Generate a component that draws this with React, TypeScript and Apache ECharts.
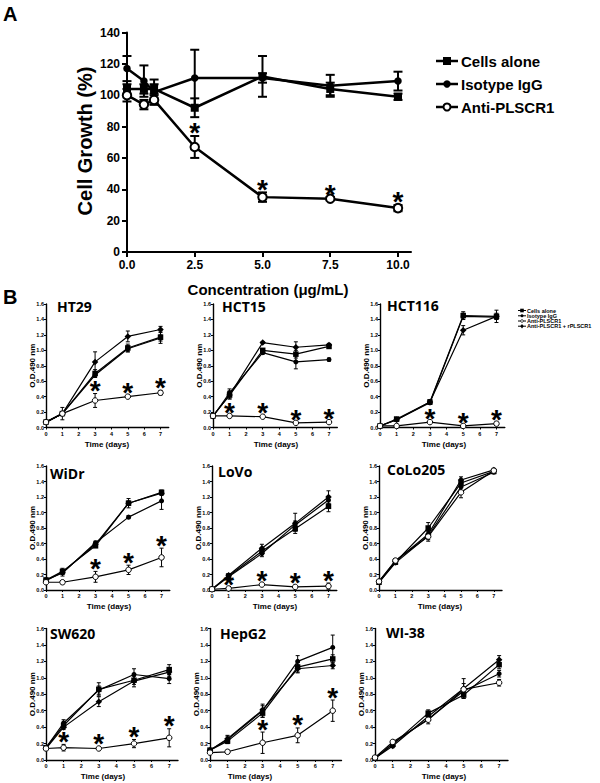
import React, { useEffect, useRef } from "react";
import * as echarts from "echarts";

// ---------- Panel A data ----------
const concA = [0, 0.625, 1, 2.5, 5, 7.5, 10];
const concTicks = [0, 2.5, 5, 7.5, 10];
const cellsAloneA = [104, 104, 104, 92, 112, 104, 99];
const cellsAloneAErr = [3, 3, 3, 6, 13, 4, 2];
const isotypeA = [117, 109, 102, 111, 111, 106, 109];
const isotypeAErr = [8, 10, 8, 18, 3, 7, 6];
const antiA = [100, 94, 97, 67, 35, 34, 28];
const antiAErr = [4, 3, 3, 7, 3, 1, 2];
const starsA = [2.5, 5, 7.5, 10];

// ---------- Panel B data ----------
const days = [0, 1, 3, 5, 7];
const dayTicks = [0, 1, 2, 3, 4, 5, 6, 7];
const cellLines = ["HT29", "HCT15", "HCT116", "WiDr", "LoVo", "CoLo205", "SW620", "HepG2", "WI-38"];

const cellsAloneB = [
  [0.07, 0.18, 0.70, 1.03, 1.17],
  [0.15, 0.42, 1.00, 0.95, 1.05],
  [0.02, 0.11, 0.33, 1.45, 1.44],
  [0.13, 0.24, 0.57, 1.12, 1.26],
  [0.01, 0.18, 0.50, 0.79, 1.08],
  [0.10, 0.36, 0.80, 1.38, 1.53],
  [0.15, 0.42, 0.86, 0.97, 1.10],
  [0.12, 0.23, 0.57, 1.13, 1.23],
  [0.02, 0.19, 0.57, 0.79, 1.16],
];
const cellsAloneBErr = [
  [0.01, 0.02, 0.05, 0.05, 0.08],
  [0.01, 0.05, 0.02, 0.05, 0.02],
  [0.01, 0.02, 0.02, 0.05, 0.04],
  [0.01, 0.02, 0.02, 0.06, 0.03],
  [0.01, 0.02, 0.03, 0.03, 0.07],
  [0.01, 0.02, 0.07, 0.05, 0.02],
  [0.02, 0.03, 0.08, 0.05, 0.06],
  [0.01, 0.03, 0.05, 0.06, 0.05],
  [0.01, 0.02, 0.04, 0.04, 0.05],
];
const isotypeB = [
  [0.07, 0.18, 0.68, 1.02, 1.16],
  [0.14, 0.45, 0.97, 0.85, 0.88],
  [0.02, 0.10, 0.32, 1.44, 1.43],
  [0.13, 0.22, 0.61, 0.94, 1.15],
  [0.01, 0.17, 0.47, 0.84, 1.16],
  [0.10, 0.35, 0.70, 1.33, 1.52],
  [0.15, 0.45, 0.85, 1.04, 0.99],
  [0.12, 0.25, 0.60, 1.20, 1.37],
  [0.02, 0.20, 0.50, 0.84, 1.05],
];
const isotypeBErr = [
  [0.01, 0.02, 0.03, 0.04, 0.04],
  [0.01, 0.05, 0.02, 0.09, 0.02],
  [0.01, 0.02, 0.02, 0.04, 0.03],
  [0.01, 0.02, 0.02, 0.02, 0.11],
  [0.01, 0.02, 0.04, 0.05, 0.05],
  [0.01, 0.02, 0.05, 0.06, 0.02],
  [0.02, 0.04, 0.05, 0.07, 0.06],
  [0.01, 0.05, 0.08, 0.07, 0.15],
  [0.01, 0.02, 0.03, 0.04, 0.04],
];
const antiB = [
  [0.07, 0.18, 0.35, 0.40, 0.45],
  [0.15, 0.15, 0.14, 0.06, 0.07],
  [0.02, 0.02, 0.07, 0.02, 0.05],
  [0.10, 0.10, 0.17, 0.26, 0.42],
  [0.01, 0.02, 0.07, 0.04, 0.05],
  [0.11, 0.38, 0.69, 1.26, 1.54],
  [0.14, 0.15, 0.14, 0.20, 0.27],
  [0.09, 0.10, 0.21, 0.30, 0.60],
  [0.03, 0.22, 0.49, 0.86, 0.94],
];
const antiBErr = [
  [0.01, 0.08, 0.09, 0.02, 0.03],
  [0.01, 0.01, 0.01, 0.01, 0.01],
  [0.01, 0.01, 0.01, 0.01, 0.02],
  [0.01, 0.02, 0.07, 0.06, 0.12],
  [0.01, 0.01, 0.02, 0.02, 0.04],
  [0.01, 0.02, 0.06, 0.07, 0.02],
  [0.01, 0.04, 0.02, 0.05, 0.11],
  [0.01, 0.02, 0.13, 0.09, 0.13],
  [0.01, 0.02, 0.05, 0.07, 0.04],
];
const antiRB = [
  [0.07, 0.18, 0.85, 1.18, 1.27],
  [0.15, 0.42, 1.10, 1.04, 1.07],
  [0.02, 0.10, 0.33, 1.26, 1.44],
  [0.12, 0.23, 0.59, 1.12, 1.25],
  [0.01, 0.19, 0.54, 0.86, 1.20],
  [0.11, 0.37, 0.72, 1.42, 1.55],
  [0.14, 0.40, 0.71, 0.96, 1.07],
  [0.12, 0.26, 0.61, 1.11, 1.15],
  [0.02, 0.17, 0.53, 0.87, 1.22],
];
const antiRBErr = [
  [0.01, 0.02, 0.13, 0.07, 0.04],
  [0.01, 0.05, 0.01, 0.07, 0.02],
  [0.01, 0.02, 0.03, 0.06, 0.08],
  [0.01, 0.05, 0.02, 0.03, 0.03],
  [0.01, 0.02, 0.05, 0.13, 0.08],
  [0.01, 0.02, 0.05, 0.04, 0.02],
  [0.02, 0.03, 0.06, 0.07, 0.05],
  [0.01, 0.03, 0.05, 0.05, 0.04],
  [0.01, 0.02, 0.04, 0.12, 0.05],
];
const starsB = [[3, 5, 7], [1, 3, 5, 7], [3, 5, 7], [3, 5, 7], [1, 3, 5, 7], [], [1, 3, 5, 7], [3, 5, 7], []];

const legendA = ["Cells alone", "Isotype IgG", "Anti-PLSCR1"];
const legendB = ["Cells alone", "Isotype IgG", "Anti-PLSCR1", "Anti-PLSCR1 + rPLSCR1"];

// ---------- layout ----------
const gridA = { left: 124, top: 32.5, width: 287, height: 219.5 };
const gridsB = [
  { left: 46, top: 304, width: 122.7, height: 123.5 },
  { left: 213, top: 304, width: 124.3, height: 123.5 },
  { left: 380, top: 304, width: 124.8, height: 123.5 },
  { left: 46, top: 466, width: 123.8, height: 124 },
  { left: 212, top: 466, width: 124.8, height: 124 },
  { left: 379, top: 466, width: 123, height: 124 },
  { left: 46, top: 628.5, width: 132, height: 131.5 },
  { left: 210, top: 628.5, width: 131.5, height: 131.5 },
  { left: 375, top: 628.5, width: 133, height: 131.5 },
];
const titlePos = [[57, 306], [222, 306], [387, 305], [50, 473], [218, 471], [387, 469], [50, 633], [220, 633], [386, 632]];
const timeLabelX = [107, 276, 444, 109, 275, 440, 103, 250, 444];

const FONT = "Arial";
const BLACK = "#000";

type Kind = "square" | "circle" | "open" | "diamond";

function lineSeries(ai: number, name: string, xs: number[], ys: number[], kind: Kind, big: boolean) {
  const sizes = big
    ? { square: 8, circle: 7.5, open: 8.5, diamond: 9 }
    : { square: 5.5, circle: 5, open: 5.5, diamond: 6.5 };
  const symbol = kind === "square" ? "rect" : kind === "diamond" ? "diamond" : "circle";
  return {
    type: "line",
    name,
    xAxisIndex: ai,
    yAxisIndex: ai,
    data: xs.map((x, i) => [x, ys[i]]),
    symbol,
    symbolSize: sizes[kind],
    showAllSymbol: true,
    lineStyle: { color: BLACK, width: big ? 2.5 : 1.2 },
    itemStyle:
      kind === "open"
        ? { color: "#fff", borderColor: BLACK, borderWidth: big ? 2 : 1 }
        : { color: BLACK, borderWidth: 0 },
    z: kind === "open" ? 5 : 4,
    silent: true,
  };
}

function errSeries(ai: number, xs: number[], ys: number[], es: number[], capW: number, lw: number) {
  return {
    type: "custom",
    xAxisIndex: ai,
    yAxisIndex: ai,
    silent: true,
    z: 3,
    encode: { x: 0, y: 1 },
    data: xs.map((x, i) => [x, ys[i], es[i]]),
    renderItem: (_p: any, api: any) => {
      const x = api.value(0);
      const y = api.value(1);
      const e = api.value(2);
      const lo = Math.max(0, y - e);
      const p1 = api.coord([x, y + e]);
      const p2 = api.coord([x, lo]);
      const h = capW / 2;
      const st = { stroke: BLACK, lineWidth: lw };
      return {
        type: "group",
        children: [
          { type: "line", shape: { x1: p1[0], y1: p1[1], x2: p2[0], y2: p2[1] }, style: st },
          { type: "line", shape: { x1: p1[0] - h, y1: p1[1], x2: p1[0] + h, y2: p1[1] }, style: st },
          { type: "line", shape: { x1: p2[0] - h, y1: p2[1], x2: p2[0] + h, y2: p2[1] }, style: st },
        ],
      };
    },
  };
}

function starSeries(ai: number, pts: number[][], fontSize: number, gap: number) {
  return {
    type: "custom",
    xAxisIndex: ai,
    yAxisIndex: ai,
    silent: true,
    z: 6,
    encode: { x: 0, y: 1 },
    data: pts,
    renderItem: (_p: any, api: any) => {
      const p = api.coord([api.value(0), api.value(1)]);
      return {
        type: "text",
        x: p[0],
        y: p[1] - gap,
        style: {
          text: "*",
          fontSize,
          fontWeight: "bold",
          fontFamily: FONT,
          fill: BLACK,
          align: "center",
          verticalAlign: "middle",
        },
      };
    },
  };
}

function legendGraphic(names: string[], kinds: Kind[], x0: number, x1: number, tx: number, ys: number[], fs: number, ms: number, lw: number, big: boolean) {
  const els: any[] = [];
  names.forEach((n, i) => {
    const y = ys[i];
    const cx = (x0 + x1) / 2;
    els.push({ type: "line", shape: { x1: x0, y1: y, x2: x1, y2: y }, style: { stroke: BLACK, lineWidth: lw } });
    const k = kinds[i];
    if (k === "square") {
      els.push({ type: "rect", shape: { x: cx - ms / 2, y: y - ms / 2, width: ms, height: ms }, style: { fill: BLACK } });
    } else if (k === "circle") {
      els.push({ type: "circle", shape: { cx, cy: y, r: ms / 2 - 0.3 }, style: { fill: BLACK } });
    } else if (k === "open") {
      els.push({ type: "circle", shape: { cx, cy: y, r: ms / 2 - 0.5 }, style: { fill: "#fff", stroke: BLACK, lineWidth: big ? 2 : 0.8 } });
    } else {
      const r = ms / 2 + 0.5;
      els.push({ type: "polygon", shape: { points: [[cx, y - r], [cx + r * 0.75, y], [cx, y + r], [cx - r * 0.75, y]] }, style: { fill: BLACK } });
    }
    els.push({ type: "text", x: tx, y, style: { text: n, fontSize: fs, fontWeight: "bold", fontFamily: FONT, fill: BLACK, align: "left", verticalAlign: "middle" } });
  });
  return els;
}

export default function App() {
  const ref = useRef<HTMLDivElement>(null);
  useEffect(() => {
    if (!ref.current) return;
    const chart = echarts.init(ref.current, undefined, { renderer: "svg" });

    const grids: any[] = [gridA, ...gridsB].map((g) => ({ ...g, containLabel: false }));

    const xAxes: any[] = [
      {
        gridIndex: 0, type: "value", min: -0.11, max: 10.48,
        axisLine: { lineStyle: { color: BLACK, width: 2 } },
        axisTick: { customValues: concTicks, length: 5, lineStyle: { color: BLACK, width: 2 } },
        axisLabel: { customValues: concTicks, formatter: (v: number) => v.toFixed(1), fontSize: 12, fontWeight: "bold", fontFamily: FONT, color: BLACK, margin: 7 },
        splitLine: { show: false },
      },
    ];
    const yAxes: any[] = [
      {
        gridIndex: 0, type: "value", min: 0, max: 140, interval: 20,
        axisLine: { show: true, lineStyle: { color: BLACK, width: 2 } },
        axisTick: { show: true, length: 5, lineStyle: { color: BLACK, width: 2 } },
        axisLabel: { fontSize: 12, fontWeight: "bold", fontFamily: FONT, color: BLACK, margin: 4 },
        splitLine: { show: false },
      },
    ];
    gridsB.forEach((_g, i) => {
      xAxes.push({
        gridIndex: i + 1, type: "value", min: 0, max: 7.5,
        axisLine: { lineStyle: { color: BLACK, width: 1.4 } },
        axisTick: { customValues: dayTicks, length: 2, lineStyle: { color: BLACK, width: 1 } },
        axisLabel: { customValues: dayTicks, fontSize: 5.5, fontWeight: "bold", fontFamily: FONT, color: BLACK, margin: 3 },
        splitLine: { show: false },
      });
      yAxes.push({
        gridIndex: i + 1, type: "value", min: 0, max: 1.6, interval: 0.2,
        axisLine: { show: true, lineStyle: { color: BLACK, width: 1.4 } },
        axisTick: { show: true, length: 2, lineStyle: { color: BLACK, width: 1 } },
        axisLabel: { formatter: (v: number) => v.toFixed(1), fontSize: 5.5, fontWeight: "bold", fontFamily: FONT, color: BLACK, margin: 2 },
        splitLine: { show: false },
      });
    });

    const series: any[] = [];
    // Panel A
    series.push(errSeries(0, concA, cellsAloneA, cellsAloneAErr, 9, 2));
    series.push(errSeries(0, concA, isotypeA, isotypeAErr, 9, 2));
    series.push(errSeries(0, concA, antiA, antiAErr, 9, 2));
    series.push(lineSeries(0, "Cells alone", concA, cellsAloneA, "square", true));
    series.push(lineSeries(0, "Isotype IgG", concA, isotypeA, "circle", true));
    series.push(lineSeries(0, "Anti-PLSCR1", concA, antiA, "open", true));
    series.push(
      starSeries(0, starsA.map((x) => { const j = concA.indexOf(x); return [x, antiA[j] + antiAErr[j]]; }), 28, 3)
    );
    // Panel B
    cellLines.forEach((_n, i) => {
      const ai = i + 1;
      series.push(errSeries(ai, days, cellsAloneB[i], cellsAloneBErr[i], 4, 1));
      series.push(errSeries(ai, days, isotypeB[i], isotypeBErr[i], 4, 1));
      series.push(errSeries(ai, days, antiB[i], antiBErr[i], 4, 1));
      series.push(errSeries(ai, days, antiRB[i], antiRBErr[i], 4, 1));
      series.push(lineSeries(ai, "Cells alone", days, cellsAloneB[i], "square", false));
      series.push(lineSeries(ai, "Isotype IgG", days, isotypeB[i], "circle", false));
      series.push(lineSeries(ai, "Anti-PLSCR1 + rPLSCR1", days, antiRB[i], "diamond", false));
      series.push(lineSeries(ai, "Anti-PLSCR1", days, antiB[i], "open", false));
      if (starsB[i].length) {
        series.push(
          starSeries(ai, starsB[i].map((d) => { const j = days.indexOf(d); return [d, antiB[i][j] + antiBErr[i][j]]; }), 28, 3)
        );
      }
    });

    const graphic: any[] = [];
    graphic.push({ type: "text", x: 3, y: 14, style: { text: "A", fontSize: 20, fontWeight: "bold", fontFamily: FONT, fill: BLACK, verticalAlign: "middle" } });
    graphic.push({ type: "text", x: 3, y: 297, style: { text: "B", fontSize: 20, fontWeight: "bold", fontFamily: FONT, fill: BLACK, verticalAlign: "middle" } });
    graphic.push({ type: "text", x: 85, y: 141, rotation: Math.PI / 2, style: { text: "Cell Growth (%)", fontSize: 20, fontWeight: "bold", fontFamily: FONT, fill: BLACK, align: "center", verticalAlign: "middle" } });
    graphic.push({ type: "text", x: 268, y: 289, style: { text: "Concentration (μg/mL)", fontSize: 15, fontWeight: "bold", fontFamily: FONT, fill: BLACK, align: "center", verticalAlign: "middle" } });
    graphic.push(...legendGraphic(legendA, ["square", "circle", "open"], 436, 458, 461, [61, 84, 107], 15, 8, 2.5, true));
    graphic.push(...legendGraphic(legendB, ["square", "circle", "open", "diamond"], 518, 526, 527, [310.5, 315.8, 321, 326.2], 5.5, 3.6, 1, false));

    gridsB.forEach((g, i) => {
      graphic.push({ type: "text", x: titlePos[i][0], y: titlePos[i][1], style: { text: cellLines[i], fontSize: 14, fontWeight: "bold", fontFamily: "Open Sans", fill: BLACK, align: "left", verticalAlign: "middle" } });
      graphic.push({ type: "text", x: g.left - 14, y: g.top + g.height / 2, rotation: Math.PI / 2, style: { text: "O.D.490 nm", fontSize: 8, fontWeight: "bold", fontFamily: FONT, fill: BLACK, align: "center", verticalAlign: "middle" } });
      graphic.push({ type: "text", x: timeLabelX[i], y: g.top + g.height + 16.5, style: { text: "Time (days)", fontSize: 8, fontWeight: "bold", fontFamily: FONT, fill: BLACK, align: "center", verticalAlign: "middle" } });
    });

    chart.setOption({
      animation: false,
      backgroundColor: "#fff",
      grid: grids,
      xAxis: xAxes,
      yAxis: yAxes,
      series,
      graphic,
    });
    return () => chart.dispose();
  }, []);
  return <div ref={ref} style={{ position: "absolute", left: 0, top: 0, width: 600, height: 783 }} />;
}
